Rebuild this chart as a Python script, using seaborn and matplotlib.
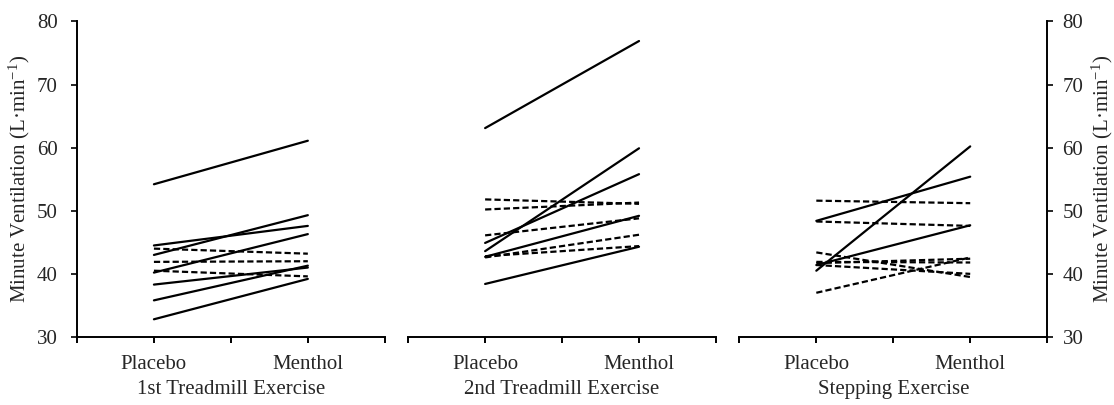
import matplotlib
matplotlib.use("Agg")
import matplotlib.pyplot as plt
import seaborn as sns
import pandas as pd

conditions = ["Placebo", "Menthol"]
panel_titles = ["1st Treadmill Exercise", "2nd Treadmill Exercise", "Stepping Exercise"]

placebo1 = [54.2, 44.5, 43.0, 44.0, 41.9, 40.2, 40.5, 38.3, 35.8, 32.8]
menthol1 = [61.1, 47.6, 49.3, 43.2, 42.0, 46.3, 39.6, 41.0, 41.3, 39.2]
style1 = ["solid", "solid", "solid", "dashed", "dashed", "solid", "dashed", "solid", "solid", "solid"]

placebo2 = [63.1, 43.6, 44.9, 51.8, 50.2, 46.1, 42.7, 42.6, 42.8, 38.4]
menthol2 = [76.9, 59.9, 55.8, 51.1, 51.3, 48.8, 49.2, 46.2, 44.4, 44.3]
style2 = ["solid", "solid", "solid", "dashed", "dashed", "dashed", "solid", "dashed", "dashed", "solid"]

placebo3 = [40.5, 48.4, 51.6, 48.3, 41.4, 43.4, 41.9, 41.7, 41.4, 37.0]
menthol3 = [60.2, 55.4, 51.2, 47.6, 47.7, 39.5, 41.8, 42.4, 40.0, 42.6]
style3 = ["solid", "solid", "dashed", "dashed", "solid", "dashed", "dashed", "dashed", "dashed", "dashed"]

ylabel = "Minute Ventilation (L\u00b7min$^{\\mathrm{-1}}$)"

panels = [(placebo1, menthol1, style1), (placebo2, menthol2, style2), (placebo3, menthol3, style3)]

sns.set_theme(style="white")
plt.rcParams["font.family"] = ["Liberation Serif", "DejaVu Serif"]
plt.rcParams["mathtext.fontset"] = "custom"
plt.rcParams["mathtext.rm"] = "Liberation Serif"
plt.rcParams["mathtext.it"] = "Liberation Serif:italic"
plt.rcParams["mathtext.bf"] = "Liberation Serif:bold"

fig, axes = plt.subplots(1, 3, figsize=(11.14, 4.05), dpi=100)
fig.subplots_adjust(left=0.0691, right=0.940, bottom=0.168, top=0.947, wspace=0.076)

fs = 15
for i, (ax, (pl, me, st), title) in enumerate(zip(axes, panels, panel_titles)):
    rows = []
    for s, (p, m, ls) in enumerate(zip(pl, me, st)):
        rows.append({"subject": s, "cond": conditions[0], "value": p, "kind": ls})
        rows.append({"subject": s, "cond": conditions[1], "value": m, "kind": ls})
    df = pd.DataFrame(rows)
    sns.lineplot(data=df, x="cond", y="value", units="subject", estimator=None,
                 style="kind", dashes={"solid": "", "dashed": (2.8, 1.4)},
                 color="black", linewidth=1.6, legend=False, ax=ax, sort=False)
    ax.set_xlim(-0.5, 1.5)
    ax.set_ylim(30, 80)
    ax.set_xticks([-0.5, 0, 0.5, 1, 1.5])
    ax.set_xticklabels(["", "Placebo", "", "Menthol", ""], fontsize=fs)
    ax.set_xlabel(title, fontsize=fs, labelpad=4)
    ax.set_ylabel("")
    for sp in ax.spines.values():
        sp.set_visible(False)
        sp.set_linewidth(1.4)
        sp.set_color("black")
    ax.spines["bottom"].set_visible(True)
    ax.tick_params(axis="x", direction="out", length=4, width=1.4, color="black",
                   bottom=True, pad=9)
    ax.set_yticks([30, 40, 50, 60, 70, 80])
    if i == 0:
        ax.spines["left"].set_visible(True)
        ax.tick_params(axis="y", direction="out", length=4, width=1.4, left=True,
                       right=False, labelleft=True, labelsize=fs, pad=10)
        ax.set_ylabel(ylabel, fontsize=fs)
        ax.yaxis.set_label_coords(-0.146, 0.5)
    elif i == 2:
        ax.spines["right"].set_visible(True)
        ax.yaxis.tick_right()
        ax.tick_params(axis="y", direction="out", length=4, width=1.4, left=False,
                       right=True, labelleft=False, labelright=True, labelsize=fs, pad=7)
        ax.yaxis.set_label_position("right")
        ax.set_ylabel(ylabel, fontsize=fs)
        ax.yaxis.set_label_coords(1.137, 0.5)
    else:
        ax.tick_params(axis="y", left=False, right=False, labelleft=False)
    ax.grid(False)

fig.savefig("out.png", dpi=100)
